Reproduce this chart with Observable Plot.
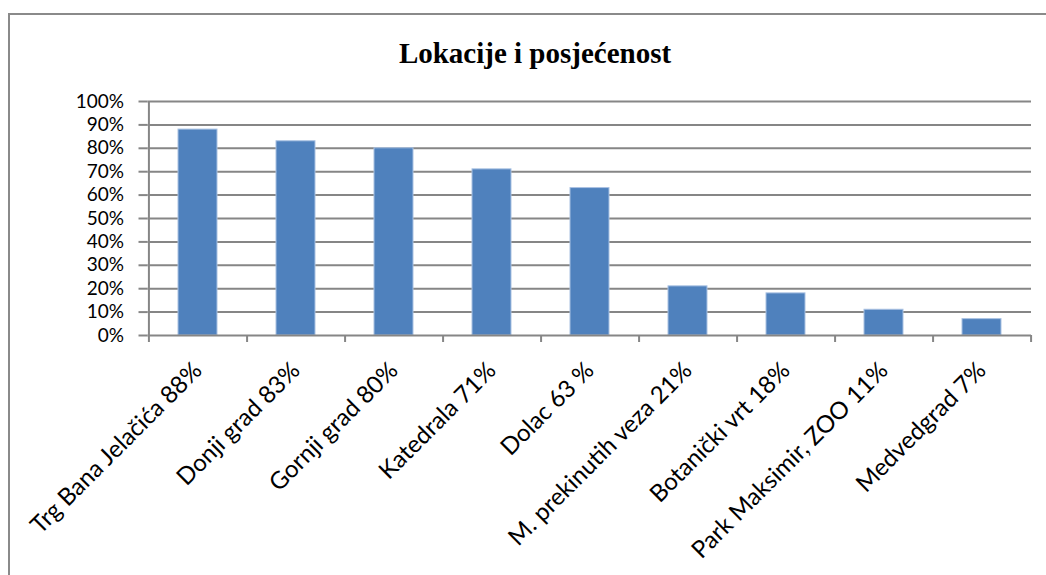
<!DOCTYPE html>
<html>
<head>
<meta charset="utf-8">
<script src="https://cdn.jsdelivr.net/npm/d3@7"></script>
<script src="https://cdn.jsdelivr.net/npm/@observablehq/plot@0.6"></script>
<style>
  html, body { margin: 0; padding: 0; background: #fff; }
  #wrap { position: relative; width: 1046px; height: 575px; overflow: hidden; }
  #frame { position: absolute; left: 8px; top: 13px; width: 1100px; height: 700px;
           border-top: 2px solid #8a8a8a; border-left: 2px solid #8a8a8a; box-sizing: border-box; }
  #title { position: absolute; left: 0; top: 37px; width: 1070px; text-align: center;
           font-family: "Liberation Serif", "Times New Roman", serif; font-weight: bold; font-size: 29px; color: #000; }
  #chart { position: absolute; left: 0; top: 0; }
</style>
</head>
<body>
<div id="wrap">
  <div id="frame"></div>
  <div id="title">Lokacije i posjećenost</div>
  <div id="chart"></div>
</div>
<script>
const categories = ["Trg Bana Jelačića 88%", "Donji grad 83%", "Gornji grad 80%", "Katedrala 71%", "Dolac 63 %", "M. prekinutih veza 21%", "Botanički vrt 18%", "Park Maksimir, ZOO 11%", "Medvedgrad 7%"];
const values = [0.88, 0.83, 0.80, 0.71, 0.63, 0.21, 0.18, 0.11, 0.07];
const yTicks = [0, 0.1, 0.2, 0.3, 0.4, 0.5, 0.6, 0.7, 0.8, 0.9, 1.0];

const data = categories.map((c, i) => ({category: c, value: values[i]}));
const fontFam = "Lato, 'Open Sans', sans-serif";

const W = 1046, ML = 147.5, MR = 15;
const halfStep = (W - ML - MR) / categories.length / 2;
const axisColor = "#868686";

const chart = Plot.plot({
  width: W,
  height: 575,
  marginLeft: ML,
  marginRight: MR,
  marginTop: 101,
  marginBottom: 240,
  style: {fontFamily: fontFam, fontSize: "19px", color: "#000", background: "transparent", overflow: "visible"},
  x: {domain: categories, paddingInner: 0.6, paddingOuter: 0.3, label: null},
  y: {domain: [0, 1], label: null},
  marks: [
    Plot.ruleY(yTicks.slice(1), {stroke: axisColor, strokeWidth: 2}),
    Plot.barY(data, {x: "category", y: "value", fill: "#4F81BD", stroke: "#a9c1e2", strokeWidth: 1}),
    Plot.axisY({ticks: yTicks, tickFormat: d3.format(".0%"), tickSize: 9, tickPadding: 15,
                stroke: axisColor, strokeWidth: 2, fontSize: 19, fill: "#000"}),
    Plot.ruleY([0], {stroke: axisColor, strokeWidth: 2}),
    // vertical value axis line
    Plot.ruleX([categories[0]], {x: d => d, y1: 1, y2: -0.03, dx: -halfStep, stroke: axisColor, strokeWidth: 2}),
    // category boundary ticks
    Plot.ruleX(categories, {x: d => d, y1: 0, y2: -0.03, dx: halfStep, stroke: axisColor, strokeWidth: 2}),
    Plot.axisX({tickRotate: -45, tickSize: 0, tickPadding: 31, fontSize: 24, fill: "#000"})
  ]
});
document.getElementById("chart").appendChild(chart);
</script>
</body>
</html>
